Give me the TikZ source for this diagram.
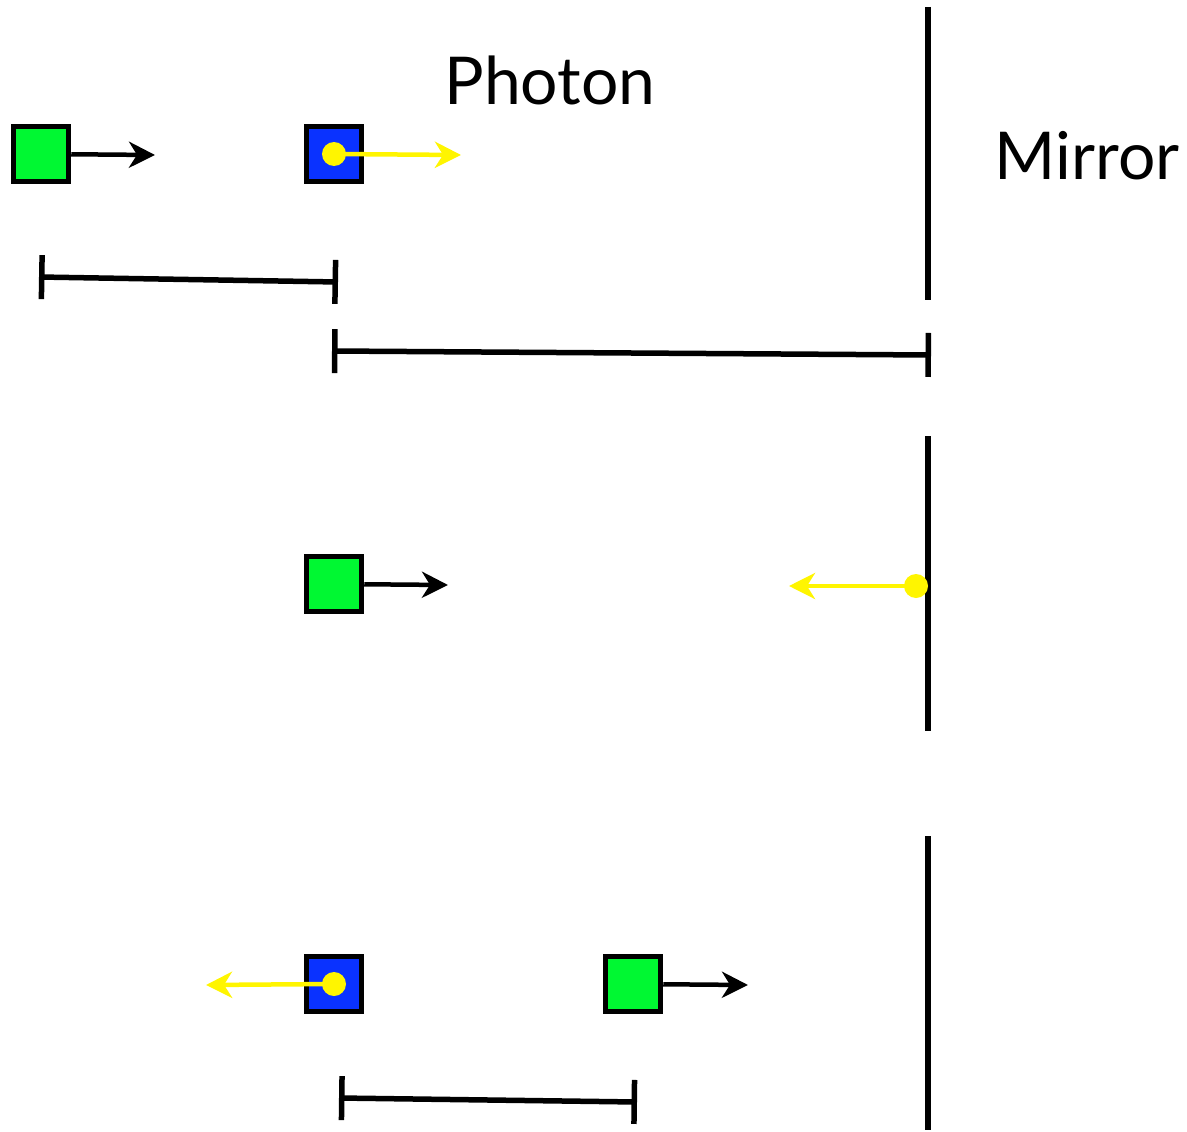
\documentclass[tikz,border=0pt]{standalone}
\usepackage{fontspec}
\setmainfont{Lato}
\usetikzlibrary{arrows.meta}
\definecolor{boxgreen}{RGB}{0,248,50}
\definecolor{boxblue}{RGB}{10,50,255}
\definecolor{photon}{RGB}{255,245,0}
\tikzset{
  atom/.style={draw=black, line width=5.5pt, minimum size=55pt, inner sep=0pt},
  dot/.style={circle, fill=photon, minimum size=24pt, inner sep=0pt},
  motion/.style={line width=4.5pt, -{Stealth[length=26pt, width=26pt, inset=8pt]}},
  mirror/.style={line width=6pt},
  span/.style={line width=5.5pt, {Bar[width=44pt]}-{Bar[width=44pt]}},
  tag/.style={font=\fontsize{66}{70}\selectfont, anchor=base}
}
\begin{document}
\begin{tikzpicture}[x=1pt,y=-1pt]
    \useasboundingbox (0,0) rectangle (1187,1132);
    % top row
    \node[atom, fill=boxgreen] (g1) at (41,154) {};
    \node[atom, fill=boxblue]  (b1) at (334,154) {};
    \coordinate (g1e) at (155,155);
    \coordinate (p1e) at (461,155);
    \draw[motion] (g1) -- (g1e);
    \draw[motion, photon] (b1.center) -- (p1e);
    \node[dot] (p1) at (b1.center) {};
    \node[tag] (photonlbl) at (550,105) {Photon};
    \node[tag] (mirrorlbl) at (1087,179) {Mirror};
    \coordinate (m1a) at (928,7);
    \coordinate (m1b) at (928,300);
    \draw[mirror] (m1a) -- (m1b);
    \coordinate (s1a) at (39,277);
    \coordinate (s1b) at (338,282);
    \draw[span] (s1a) -- (s1b);
    \coordinate (s2a) at (332,351);
    \coordinate (s2b) at (931,355);
    \draw[span] (s2a) -- (s2b);
    % middle row
    \node[atom, fill=boxgreen] (g2) at (334,584) {};
    \coordinate (g2e) at (448,585);
    \draw[motion] (g2) -- (g2e);
    \coordinate (m2a) at (928,436);
    \coordinate (m2b) at (928,731);
    \draw[mirror] (m2a) -- (m2b);
    \coordinate (p2s) at (916,586);
    \coordinate (p2e) at (789,586);
    \draw[motion, photon] (p2s) -- (p2e);
    \node[dot] (p2) at (p2s) {};
    % bottom row
    \node[atom, fill=boxblue]  (b3) at (334,984) {};
    \node[atom, fill=boxgreen] (g3) at (633,984) {};
    \coordinate (p3e) at (206,985);
    \draw[motion, photon] (b3.center) -- (p3e);
    \node[dot] (p3) at (b3.center) {};
    \coordinate (g3e) at (748,985);
    \draw[motion] (g3) -- (g3e);
    \coordinate (m3a) at (928,836);
    \coordinate (m3b) at (928,1130);
    \draw[mirror] (m3a) -- (m3b);
    \coordinate (s3a) at (339,1098);
    \coordinate (s3b) at (637,1102);
    \draw[span] (s3a) -- (s3b);
\end{tikzpicture}
\end{document}
